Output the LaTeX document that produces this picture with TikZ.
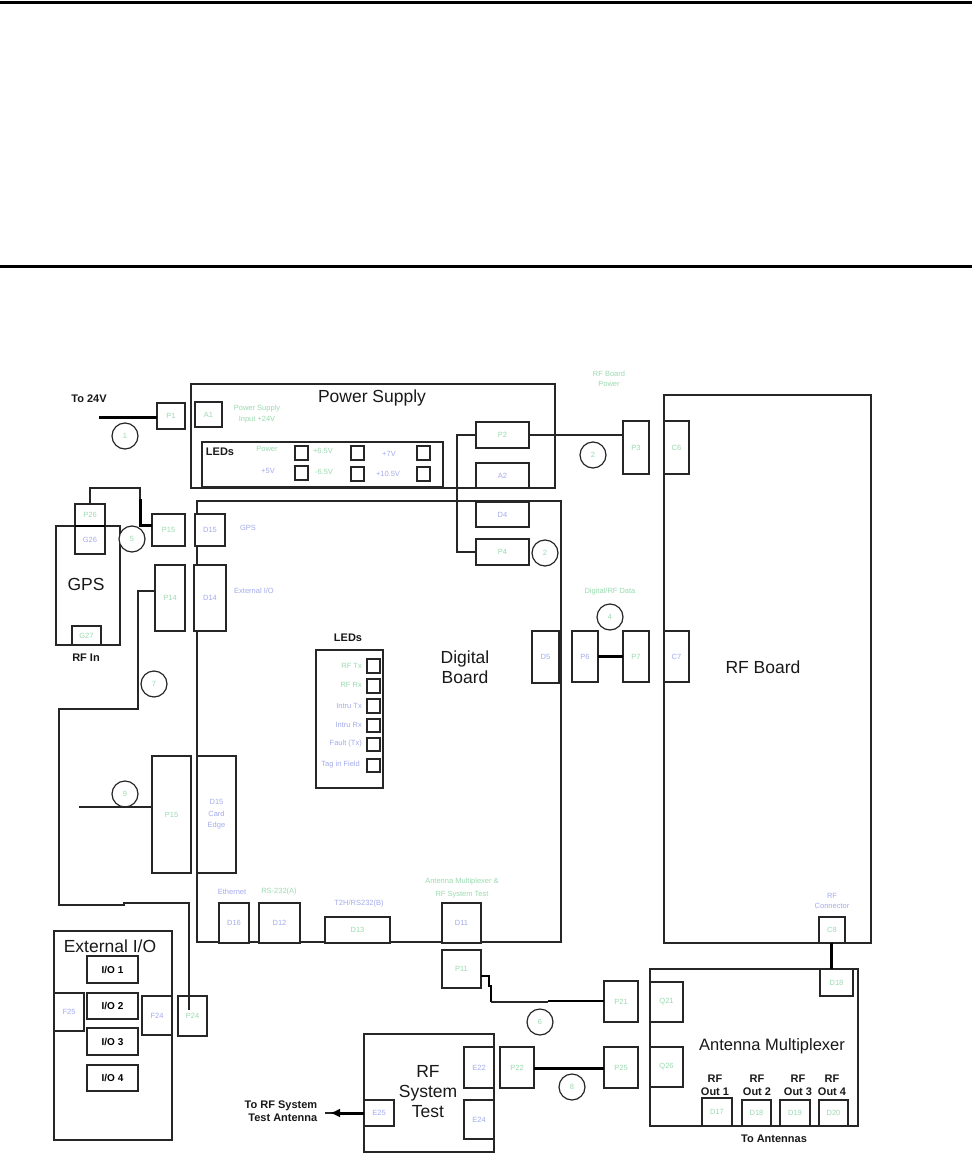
\documentclass[tikz,border=0pt]{standalone}
\usepackage{fontspec}
\setmainfont{Liberation Sans}
\usetikzlibrary{arrows.meta}
\definecolor{lblG}{HTML}{9ADBB0}
\definecolor{lblB}{HTML}{A4ACEE}
\tikzset{
  bx/.style={draw=black!85,line width=1.4pt,fill=white,inner sep=0pt,outer sep=0pt,font=\fontsize{7.5}{8}\selectfont,text=lblG},
  bxb/.style={bx,text=lblB},
  board/.style={draw=black!85,line width=1.4pt,inner sep=0pt,outer sep=0pt},
  led/.style={draw=black!85,line width=1.4pt,fill=white,inner sep=0pt,outer sep=0pt},
  iobox/.style={bx,text=black,font=\fontsize{10}{10}\bfseries\selectfont},
  num/.style={circle,draw=black!85,line width=1.2pt,fill=white,minimum size=26pt,inner sep=0pt,outer sep=0pt,font=\fontsize{7.5}{8}\selectfont,text=lblG},
  title/.style={inner sep=0pt,align=center,text=black!90,font=\fontsize{17.5}{20}\selectfont},
  midtitle/.style={inner sep=0pt,align=center,text=black!90,font=\fontsize{16.5}{20}\selectfont},
  hint/.style={inner sep=0pt,align=center,text=lblB,font=\fontsize{7.5}{10.5}\selectfont},
  hintg/.style={hint,text=lblG},
  strong/.style={inner sep=0pt,align=center,text=black!90,font=\fontsize{11}{13}\bfseries\selectfont},
  wire/.style={draw=black!85,line width=1.3pt},
  fat/.style={draw=black,line width=3pt},
  rulebar/.style={draw=black,line width=3.4pt}
}
% style, name, x1, y1, x2, y2, label
\newcommand\bxn[7]{\node[#1,minimum width={(#5-#3)*1pt},minimum height={(#6-#4)*1pt}] (#2) at ({(#3+#5)/2},{(#4+#6)/2}) {#7};}
\begin{document}
\begin{tikzpicture}[x=1pt,y=-1pt]
\useasboundingbox (0,0) rectangle (972,1156);
\fill[white] (0,0) rectangle (972,1156);
% rules
\coordinate (ruleAL) at (0,2.4); \coordinate (ruleAR) at (972,2.4);
\coordinate (ruleBL) at (0,266.6); \coordinate (ruleBR) at (972,266.6);
\draw[rulebar] (ruleAL) -- (ruleAR);
\draw[rulebar] (ruleBL) -- (ruleBR);
% boards
\bxn{board}{PS}{191}{384}{555}{488}{}
\bxn{board}{DB}{197}{501}{561}{942}{}
\bxn{board}{RFB}{664}{395}{871}{943}{}
\bxn{board}{GPSB}{56}{526}{120}{645}{}
\bxn{board}{EXT}{54}{931}{172}{1140}{}
\bxn{board}{RFST}{364}{1034}{494}{1152}{}
\bxn{board}{AMX}{650}{969}{858}{1126}{}
\bxn{board}{LEDA}{202}{442}{443}{487}{}
\bxn{board}{LEDB}{316}{650}{383}{788}{}
% titles
\node[title] (tPS) at (372,398) {Power Supply};
\node[title] (tRFB) at (763,667) {RF Board};
\node[title] (tDB) at (465,667) {Digital\\Board};
\node[title] (tGPS) at (86,584) {GPS};
\node[title] (tEXT) at (110,946) {External I/O};
\node[title] (tRFST) at (428,1092) {RF\\System\\Test};
\node[midtitle] (tAMX) at (772,1046) {Antenna Multiplexer};
% connector boxes
\bxn{bx}{P1}{157}{403}{185}{429}{P1}
\bxn{bx}{A1}{195}{402}{222}{427}{A1}
\bxn{bx}{P2}{476}{422}{529}{448}{P2}
\bxn{bxb}{A2}{476}{463}{529}{488}{A2}
\bxn{bxb}{D4}{476}{502}{529}{527}{D4}
\bxn{bx}{P4}{476}{539}{529}{565}{P4}
\bxn{bx}{P3}{623}{421}{649}{474}{P3}
\bxn{bx}{C6}{664}{421}{689}{474}{C6}
\bxn{bxb}{D5}{532}{631}{559}{683}{D5}
\bxn{bxb}{P6}{572}{631}{598}{682}{P6}
\bxn{bx}{P7}{623}{631}{649}{682}{P7}
\bxn{bxb}{C7}{664}{631}{689}{682}{C7}
\bxn{bx}{P26}{75}{504}{105}{526}{P26}
\bxn{bxb}{G26}{75}{526}{105}{554}{G26}
\bxn{bx}{G27}{72}{626}{101}{645}{G27}
\bxn{bx}{P15}{152}{514}{185}{546}{P15}
\bxn{bxb}{D16t}{195}{514}{225}{546}{D15}
\bxn{bx}{P14}{155}{565}{185}{631}{P14}
\bxn{bxb}{D14}{194}{565}{226}{631}{D14}
\bxn{bx}{P10}{152}{756}{191}{873}{P15}
\node[bxb,align=center,minimum width=39pt,minimum height=117pt,font=\fontsize{7.5}{11.5}\selectfont] (D10) at (216.5,814.5) {D15\\Card\\Edge};
\bxn{bxb}{D16}{219}{903}{249}{943}{D16}
\bxn{bxb}{D12}{259}{903}{300}{943}{D12}
\bxn{bx}{D13}{325}{917}{390}{943}{D13}
\bxn{bxb}{D11}{442}{903}{481}{943}{D11}
\bxn{bx}{P11}{442}{950}{481}{988}{P11}
\bxn{bx}{P21}{604}{981}{638}{1022}{P21}
\bxn{bxb}{E22}{464}{1047}{494}{1088}{E22}
\bxn{bxb}{E24}{464}{1100}{494}{1139}{E24}
\bxn{bxb}{E25}{364}{1100}{394}{1126}{E25}
\bxn{bx}{P22}{500}{1047}{534}{1088}{P22}
\bxn{bx}{P25}{604}{1047}{638}{1088}{P25}
\bxn{bxb}{F25}{54}{993}{84}{1031}{F25}
\bxn{bxb}{F24}{142}{996}{172}{1035}{F24}
\bxn{bx}{P24}{178}{996}{207}{1036}{P24}
\bxn{bx}{C8}{819}{917}{845}{943}{C8}
\bxn{bx}{D18t}{820}{969}{853}{996}{D18}
\bxn{bx}{Q21}{650}{982}{683}{1022}{Q21}
\bxn{bx}{Q26}{650}{1047}{683}{1087}{Q26}
\bxn{bx}{D17}{702}{1098}{732}{1126}{D17}
\bxn{bx}{D18}{742}{1100}{771}{1126}{D18}
\bxn{bx}{D19}{780}{1100}{810}{1126}{D19}
\bxn{bx}{D20}{819}{1100}{848}{1126}{D20}
% I/O
\bxn{iobox}{IOa}{87}{956}{138}{983}{I/O 1}
\bxn{iobox}{IOb}{87}{993}{138}{1019}{I/O 2}
\bxn{iobox}{IOc}{87}{1028}{138}{1055}{I/O 3}
\bxn{iobox}{IOd}{87}{1065}{138}{1091}{I/O 4}
% LEDs power
\bxn{led}{La}{295}{446}{308}{460}{}
\bxn{led}{Lb}{295}{466}{308}{480}{}
\bxn{led}{Lc}{351}{446}{364}{460}{}
\bxn{led}{Ld}{351}{467}{364}{481}{}
\bxn{led}{Le}{417}{446}{430}{460}{}
\bxn{led}{Lf}{417}{467}{430}{481}{}
% LEDs digital
\bxn{led}{Ma}{367}{659}{380}{673}{}
\bxn{led}{Mb}{367}{679}{380}{693}{}
\bxn{led}{Mc}{367}{699}{380}{713}{}
\bxn{led}{Md}{367}{719}{380}{732}{}
\bxn{led}{Me}{367}{738}{380}{751}{}
\bxn{led}{Mf}{367}{759}{380}{772}{}
% wires
\draw[wire] (P2.west) -- ++(-19,0) |- (P4.west);
\draw[wire] (P2.east) -- (P2.east -| P3.west);
\draw[wire] (P26.north) |- (140,488) coordinate (gpsTurn) -- (140,512);
\draw[fat] (140,499) -- (140,525) -- (P15.west |- 0,525);
\draw[fat,line width=2.4pt] (P26.south west) -- (P26.south east);
\coordinate (w14a) at (138,709); \coordinate (w14b) at (59,709);
\coordinate (w14c) at (59,905); \coordinate (w14d) at (124,905);
\coordinate (w14e) at (124,903); \coordinate (w14f) at (189,903);
\coordinate (w14g) at (189,1010);
\draw[wire] (P14.west |- 0,591) -- (138,591) -- (w14a) -- (w14b) -- (w14c) -- (w14d) -- (w14e) -- (w14f) -- (w14g);
\coordinate (free24) at (99,417);
\draw[fat] (free24) -- (P1.west |- free24);
\coordinate (free9) at (79,807);
\draw[fat] (P6.east |- 0,656) -- (P7.west |- 0,656);
\coordinate (w11a) at (489,976); \coordinate (w11b) at (491,1002);
\coordinate (w11c) at (548,1002);
\draw[fat,line width=2.6pt] (P11.east |- w11a) -- (w11a) -- (489,986) -- (491,986) -- (w11b);
\draw[wire] (w11b) -- (w11c);
\draw[fat,line width=2.4pt] (548,1001) -- (P21.west |- 0,1001);
\draw[fat] (P22.east |- 0,1068) -- (P25.west |- 0,1068);
\draw[fat] (C8.south -| 831,0) -- (D18t.north -| 831,0);
\coordinate (antTip) at (325,1113);
\coordinate (antHead) at (330,1113);
\coordinate (antStem) at (336,1113);
\draw[wire] (antStem) -- (antTip);
\draw[fat,-{Latex[length=10pt,width=9pt]}] (E25.west |- antTip) -- (antHead);
% number circles
\node[num] (n1) at (125,436) {1};
\node[num] (n5) at (132,539) {5};
\node[num] (n2a) at (545,553) {2};
\node[num] (n2b) at (593,455) {2};
\node[num] (n4) at (610,617) {4};
\node[num] (n7) at (154,684) {7};
\node[num] (n9) at (125,794) {9};
\node[num] (n6) at (540,1022) {6};
\node[num] (n8) at (572,1087) {8};
\draw[wire] (free9) -- (P10.west |- free9);
% hints
\node[hintg] (h1) at (257,414) {Power Supply\\Input +24V};
\node[hintg] (h2) at (267,449) {Power};
\node[hint] (h3) at (268,471) {+5V};
\node[hintg] (h4) at (323,451) {+6.5V};
\node[hintg] (h5) at (324,472) {-6.5V};
\node[hint] (h6) at (389,454) {+7V};
\node[hint] (h7) at (388,474) {+10.5V};
\node[hintg] (h8) at (609,379) {RF Board\\Power};
\node[hintg] (h9) at (610,592) {Digital/RF Data};
\node[hint] (h10) at (248,528) {GPS};
\node[hint] (h11) at (254,591) {External I/O};
\node[hint] (h12) at (232,892) {Ethernet};
\node[hintg] (h13) at (279,892) {RS-232(A)};
\node[hint] (h14) at (359,904) {T2H/RS232(B)};
\node[hintg,font=\fontsize{7.5}{13}\selectfont] (h15) at (462,888.5) {Antenna Multiplexer \&\\RF System Test};
\node[hint] (h16) at (832,901) {RF\\Connector};
\node[hintg,anchor=east] (m1) at (362,666) {RF Tx};
\node[hintg,anchor=east] (m2) at (362,685) {RF Rx};
\node[hint,anchor=east] (m3) at (362,706) {Intru Tx};
\node[hint,anchor=east] (m4) at (362,725) {Intru Rx};
\node[hint,anchor=east] (m5) at (362,744) {Fault (Tx)};
\node[hint,anchor=east] (m6) at (360,765) {Tag in Field};
% bold labels
\node[strong] (s1) at (89,399) {To 24V};
\node[strong] (s2) at (220,452) {LEDs};
\node[strong] (s3) at (348,638) {LEDs};
\node[strong] (s4) at (86,658) {RF In};
\node[strong,align=right] (s5) at (281,1111) {To RF System\\Test Antenna};
\node[strong] (s6) at (715,1085) {RF\\Out 1};
\node[strong] (s7) at (757,1085) {RF\\Out 2};
\node[strong] (s8) at (798,1085) {RF\\Out 3};
\node[strong] (s9) at (832,1085) {RF\\Out 4};
\node[strong] (s10) at (774,1139) {To Antennas};
\end{tikzpicture}
\end{document}
